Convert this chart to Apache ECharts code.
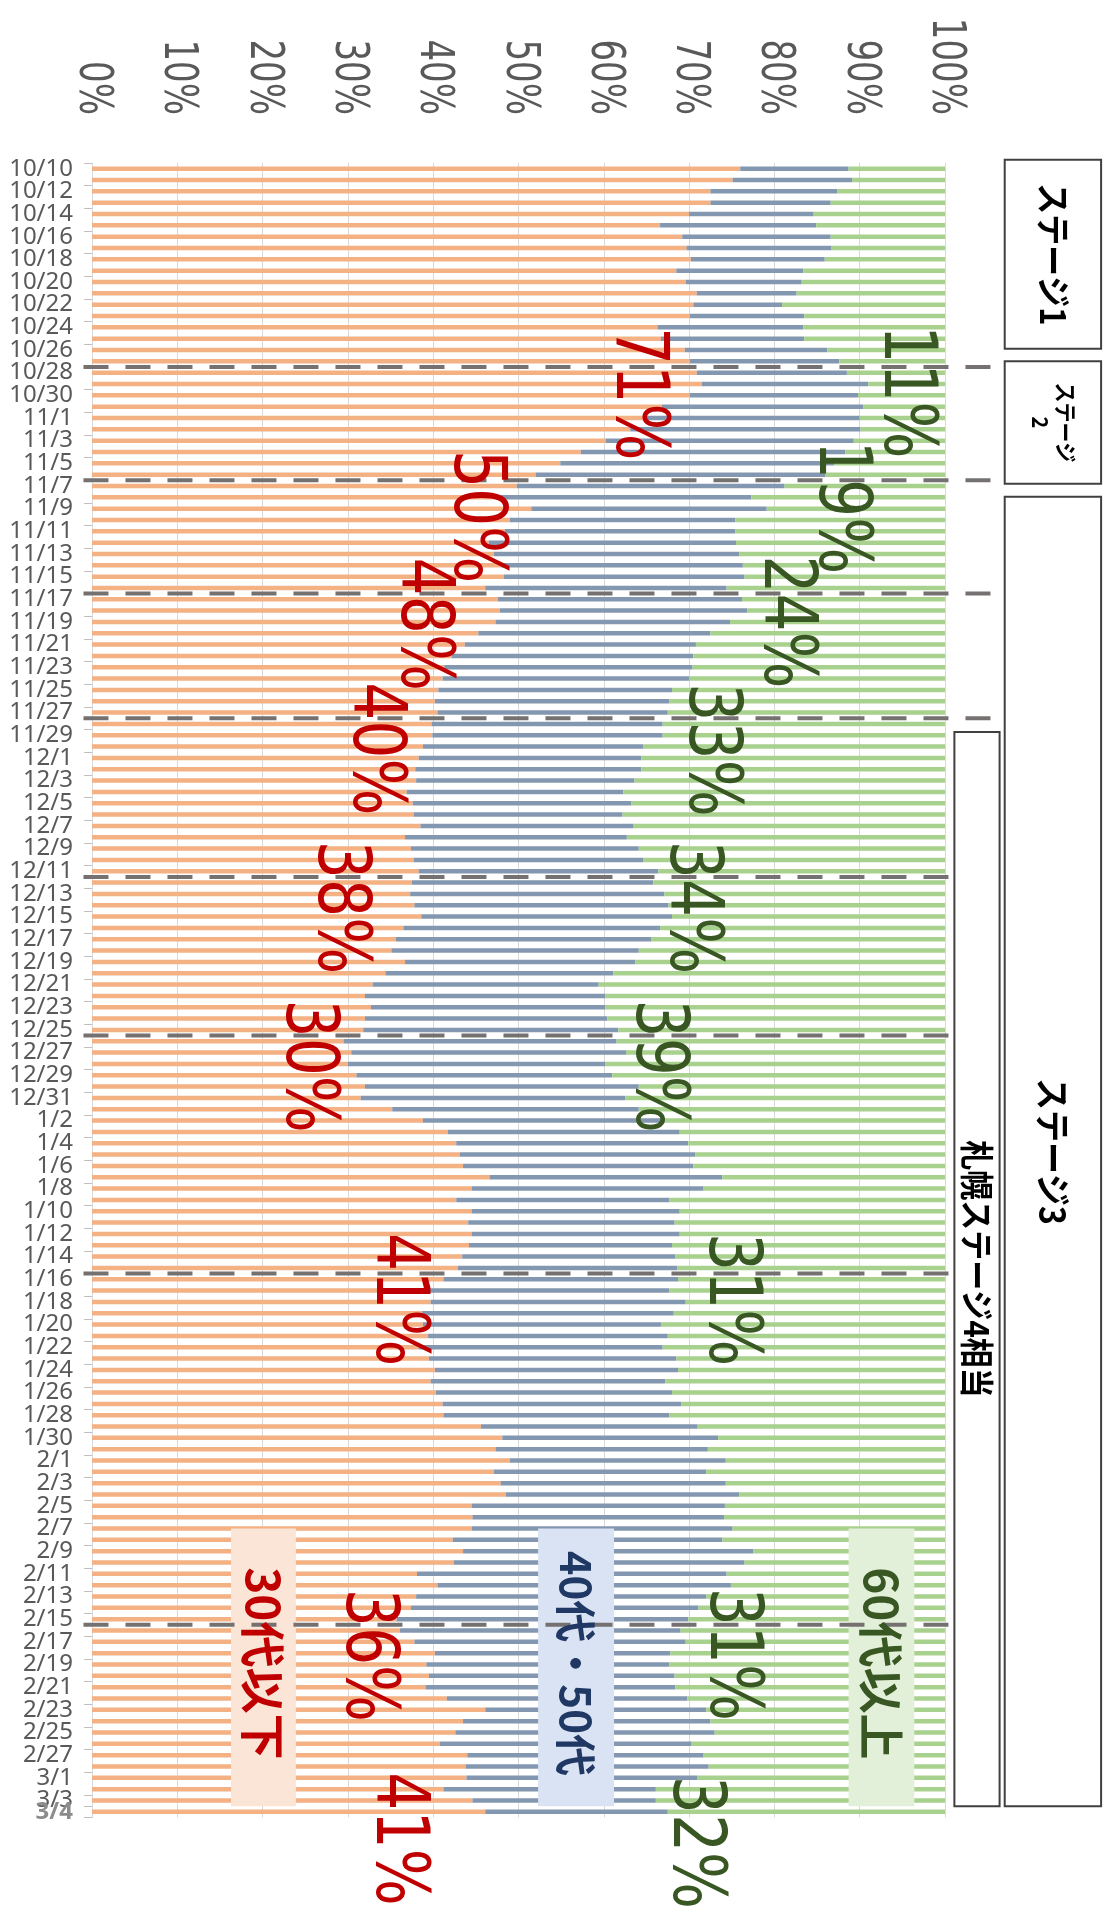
<!DOCTYPE html>
<html><head><meta charset="utf-8">
<script src="https://cdn.jsdelivr.net/npm/echarts@6/dist/echarts.min.js"></script>
<style>html,body{margin:0;padding:0;background:#fff}#c{width:1104px;height:1928px}</style>
</head><body><div id="c"></div>
<script>
// ---------- data ----------
const dates = [
'10/10','10/11','10/12','10/13','10/14','10/15','10/16','10/17','10/18','10/19','10/20','10/21','10/22','10/23','10/24','10/25','10/26','10/27','10/28','10/29','10/30','10/31',
'11/1','11/2','11/3','11/4','11/5','11/6','11/7','11/8','11/9','11/10','11/11','11/12','11/13','11/14','11/15','11/16','11/17','11/18','11/19','11/20','11/21','11/22','11/23','11/24','11/25','11/26','11/27','11/28','11/29','11/30',
'12/1','12/2','12/3','12/4','12/5','12/6','12/7','12/8','12/9','12/10','12/11','12/12','12/13','12/14','12/15','12/16','12/17','12/18','12/19','12/20','12/21','12/22','12/23','12/24','12/25','12/26','12/27','12/28','12/29','12/30','12/31',
'1/1','1/2','1/3','1/4','1/5','1/6','1/7','1/8','1/9','1/10','1/11','1/12','1/13','1/14','1/15','1/16','1/17','1/18','1/19','1/20','1/21','1/22','1/23','1/24','1/25','1/26','1/27','1/28','1/29','1/30','1/31',
'2/1','2/2','2/3','2/4','2/5','2/6','2/7','2/8','2/9','2/10','2/11','2/12','2/13','2/14','2/15','2/16','2/17','2/18','2/19','2/20','2/21','2/22','2/23','2/24','2/25','2/26','2/27','2/28',
'3/1','3/2','3/3','3/4'];

const young = [
76.0,75.1,72.5,72.5,70.0,66.6,69.2,69.7,70.2,68.5,
69.6,70.9,70.5,70.1,66.3,66.7,69.5,70.1,70.9,71.5,
70.1,66.8,64.9,63.1,60.2,57.3,54.9,52.0,49.8,48.0,
51.5,49.0,48.4,46.5,47.1,48.0,48.3,46.1,47.6,47.8,
47.3,45.3,43.7,42.2,41.3,41.1,40.6,40.2,40.5,39.8,
39.9,38.8,38.3,37.9,38.0,36.9,37.6,37.7,38.5,36.7,
37.4,37.7,38.3,37.5,37.3,37.8,38.6,36.5,35.6,35.1,
36.7,34.4,32.9,32.0,32.7,32.0,31.8,29.5,30.4,30.0,
31.0,32.0,31.5,35.2,38.8,41.7,42.7,43.1,43.5,46.6,
44.5,42.7,44.5,44.1,44.5,44.2,43.4,42.9,41.2,38.8,
39.7,38.7,38.8,39.4,38.3,39.5,40.2,39.7,40.3,41.1,
41.2,45.6,48.1,47.3,49.0,47.1,47.9,48.5,44.5,44.6,
44.5,42.3,43.5,42.4,38.1,40.5,38.0,37.4,35.7,36.1,
37.8,40.2,39.2,39.5,39.1,41.6,46.1,43.5,42.6,40.8,
44.0,43.8,43.9,41.2,44.6,46.1];

const middle = [
12.7,14.0,14.9,14.1,14.6,18.3,17.4,17.0,15.7,14.9,
13.6,11.7,10.4,13.4,17.1,16.8,16.7,17.5,17.6,19.5,
19.7,23.6,25.1,27.0,29.1,31.0,32.1,34.0,31.4,29.3,
27.6,26.4,27.0,29.0,28.8,28.3,28.2,28.3,28.6,29.0,
27.5,27.2,27.1,28.3,29.1,28.9,27.4,27.5,27.0,27.1,
27.0,25.8,26.1,26.5,25.6,25.4,25.6,24.5,25.0,26.0,
26.7,26.9,28.1,28.3,29.8,29.8,29.4,30.1,30.0,29.0,
27.0,26.7,26.5,28.2,27.5,28.4,29.9,32.0,32.2,30.2,
30.0,32.1,31.0,28.9,28.4,27.2,27.2,27.6,27.0,27.3,
27.2,25.0,24.4,24.2,24.4,23.8,25.0,25.7,27.5,28.9,
29.9,29.5,27.9,28.1,28.6,29.0,28.5,27.5,27.7,28.0,
26.5,25.4,25.3,24.9,25.3,24.9,26.4,27.4,29.7,29.5,
30.6,31.6,34.0,34.1,36.3,34.4,34.0,33.7,34.2,32.9,
31.8,27.6,28.5,28.8,29.3,28.2,25.9,29.0,30.4,29.5,
27.7,28.5,27.1,24.9,21.5,21.4];

const senior = [
11.3,10.9,12.6,13.4,15.4,15.1,13.4,13.3,14.1,16.6,
16.8,17.4,19.1,16.5,16.6,16.5,13.8,12.4,11.5,9.0,
10.2,9.6,10.0,9.9,10.7,11.7,13.0,14.0,18.8,22.7,
20.9,24.6,24.6,24.5,24.1,23.7,23.5,25.6,23.8,23.2,
25.2,27.5,29.2,29.5,29.6,30.0,32.0,32.3,32.5,33.1,
33.1,35.4,35.6,35.6,36.4,37.7,36.8,37.8,36.5,37.3,
35.9,35.4,33.6,34.2,32.9,32.4,32.0,33.4,34.4,35.9,
36.3,38.9,40.6,39.8,39.8,39.6,38.3,38.5,37.4,39.8,
39.0,35.9,37.5,35.9,32.8,31.1,30.1,29.3,29.5,26.1,
28.3,32.3,31.1,31.7,31.1,32.0,31.6,31.4,31.3,32.3,
30.4,31.8,33.3,32.5,33.1,31.5,31.3,32.8,32.0,30.9,
32.3,29.0,26.6,27.8,25.7,28.0,25.7,24.1,25.8,25.9,
24.9,26.1,22.5,23.5,25.6,25.1,28.0,28.9,30.1,31.0,
30.4,32.2,32.3,31.7,31.6,30.2,28.0,27.5,27.0,29.7,
28.3,27.7,29.0,33.9,33.9,32.5];

const seriesNames = ['30代以下', '40代・50代', '60代以上'];
const tickValues = [0,10,20,30,40,50,60,70,80,90,100];
const tickLabels = ['0%','10%','20%','30%','40%','50%','60%','70%','80%','90%','100%'];

// period annotations (share texts), value position in %, category position (index units)
const youngNotes = ['71%','50%','48%','40%','38%','30%','41%','36%','41%'];
const youngNoteX = [63.8,44.8,38.5,32.9,28.8,25.1,35.6,32.1,35.6];
const youngNoteAt = [19.86,30.7,40.2,51.2,65.2,79.2,99.8,131.2,147.4];
const seniorNotes = ['11%','19%','24%','33%','34%','39%','31%','31%','32%'];
const seniorNoteX = [95.2,87.5,81.1,72.3,70.1,66.1,74.7,74.8,70.5];
const seniorNoteAt = [19.7,29.9,40.0,51.3,65.2,79.2,99.8,131.1,147.7];

// period boundaries (between categories) and stage labels
const breakAt = [17.5,27.5,37.5,48.5,62.5,76.5,97.5,128.5];
const stageLabels = ['ステージ1','ステージ\n2','ステージ3','札幌ステージ4相当'];
const stageFrom = [-0.79,17.0,28.95,49.7];
const stageTo = [15.9,27.8,144.5,144.5];

// ---------- layout / style ----------
const colors = ['#F4B183','#8497B0','#A9D18E'];
const breakEnd = [105.7,105.7,105.7,105.7,100.8,100.8,100.8,100.8];
const stageLeft = [107.0,107.0,107.0,101.1];
const stageRight = [118.3,118.3,118.3,106.4];
const stageFont = [31,20,32,30];
const legendLeft = [16.3,52.3,88.7];
const legendRight = [23.9,61.2,96.4];
const legendFill = ['#FBE5D6','#DAE3F3','#E2F0D9'];
const legendText = ['#C00000','#203864','#385723'];
const legendFont = [46,42,46];
const legendFrom = 120.0, legendTo = 144.5;

const chart = echarts.init(document.getElementById('c'));
const last = dates.length - 1;
chart.setOption({
  animation: false,
  backgroundColor: '#fff',
  grid: {left: 92, right: 159, top: 163, bottom: 110.5, containLabel: false, outerBoundsMode: 'none'},
  xAxis: {
    type: 'value', position: 'top', min: 0, max: 100, interval: 10,
    axisLine: {show: false}, axisTick: {show: false}, axisLabel: {show: false},
    splitLine: {show: true, lineStyle: {color: '#D9D9D9', width: 1}}
  },
  yAxis: {
    type: 'category', inverse: true, data: dates,
    axisLine: {show: true, lineStyle: {color: '#D9D9D9', width: 1}},
    axisTick: {show: true, length: 8, interval: 1, lineStyle: {color: '#BFBFBF'}},
    splitLine: {show: false},
    axisLabel: {
      interval: 0, hideOverlap: false,
      margin: 19, fontFamily: 'Noto Sans', fontSize: 24, color: '#595959',
      formatter: (v, i) => i === last ? '{l|' + v + '}' : (i % 2 === 0 ? v : ''),
      rich: {l: {color: '#8C8C8C', fontWeight: 'bold', fontFamily: 'Noto Sans', fontSize: 24}}
    }
  },
  series: [young, middle, senior].map((d, k) => ({
    name: seriesNames[k], type: 'bar', stack: 'all', data: d, barWidth: 4.5,
    itemStyle: {color: colors[k]}, emphasis: {disabled: true}
  }))
});

// positions from the chart's own axes
const px0 = chart.convertToPixel({xAxisIndex: 0}, 0);
const px100 = chart.convertToPixel({xAxisIndex: 0}, 100);
const xv = v => px0 + (px100 - px0) * v / 100;
const py0 = chart.convertToPixel({yAxisIndex: 0}, dates[0]);
const py1 = chart.convertToPixel({yAxisIndex: 0}, dates[1]);
const yp = p => py0 + (py1 - py0) * p;

const els = [];
function rotText(text, x, y, size, color, weight, family, sy, align, lh) {
  els.push({
    type: 'text', x: x, y: y, rotation: -Math.PI / 2, scaleX: 1, scaleY: sy, z: 120,
    style: {text: text, fontSize: size, fontWeight: weight, fontFamily: family, fill: color,
            align: align || 'center', verticalAlign: 'middle', lineHeight: lh || undefined}
  });
}
// value axis tick labels (top)
const topY = yp(-0.5);
tickValues.forEach((v, i) => rotText(tickLabels[i], xv(v), topY - 48, 34, '#595959', 'normal', 'DejaVu Sans', 1.35, 'right'));
// legend boxes
seriesNames.forEach((n, i) => {
  els.push({type: 'rect', z: 90, shape: {x: xv(legendLeft[i]), y: yp(legendFrom), width: xv(legendRight[i]) - xv(legendLeft[i]), height: yp(legendTo) - yp(legendFrom)},
            style: {fill: legendFill[i], stroke: null}});
  rotText(n, (xv(legendLeft[i]) + xv(legendRight[i])) / 2, (yp(legendFrom) + yp(legendTo)) / 2 - 4, legendFont[i], legendText[i], 'bold', 'Noto Sans CJK JP', 1.0);
});
// stage boxes
stageLabels.forEach((s, i) => {
  const x1 = xv(stageLeft[i]), x2 = xv(stageRight[i]), y1 = yp(stageFrom[i]), y2 = yp(stageTo[i]);
  els.push({type: 'rect', z: 90, shape: {x: x1, y: y1, width: x2 - x1, height: y2 - y1},
            style: {fill: '#fff', stroke: '#404040', lineWidth: 2}});
  rotText(s, (x1 + x2) / 2, (y1 + y2) / 2, stageFont[i], '#000', 'bold', 'Noto Sans CJK JP', 1.12, 'center', stageFont[i] + 3);
});
// period boundaries
breakAt.forEach((b, i) => {
  els.push({type: 'line', z: 100, shape: {x1: xv(-1.0), y1: yp(b), x2: xv(breakEnd[i]), y2: yp(b)},
            style: {stroke: '#767171', lineWidth: 4, lineDash: [25, 17]}});
});
// share annotations
youngNotes.forEach((t, i) => rotText(t, xv(youngNoteX[i]), yp(youngNoteAt[i]), 60, '#C00000', 'normal', 'DejaVu Sans', 1.21));
seniorNotes.forEach((t, i) => rotText(t, xv(seniorNoteX[i]), yp(seniorNoteAt[i]), 60, '#385723', 'normal', 'DejaVu Sans', 1.21));

chart.setOption({graphic: {elements: els}});
</script>
</body></html>
